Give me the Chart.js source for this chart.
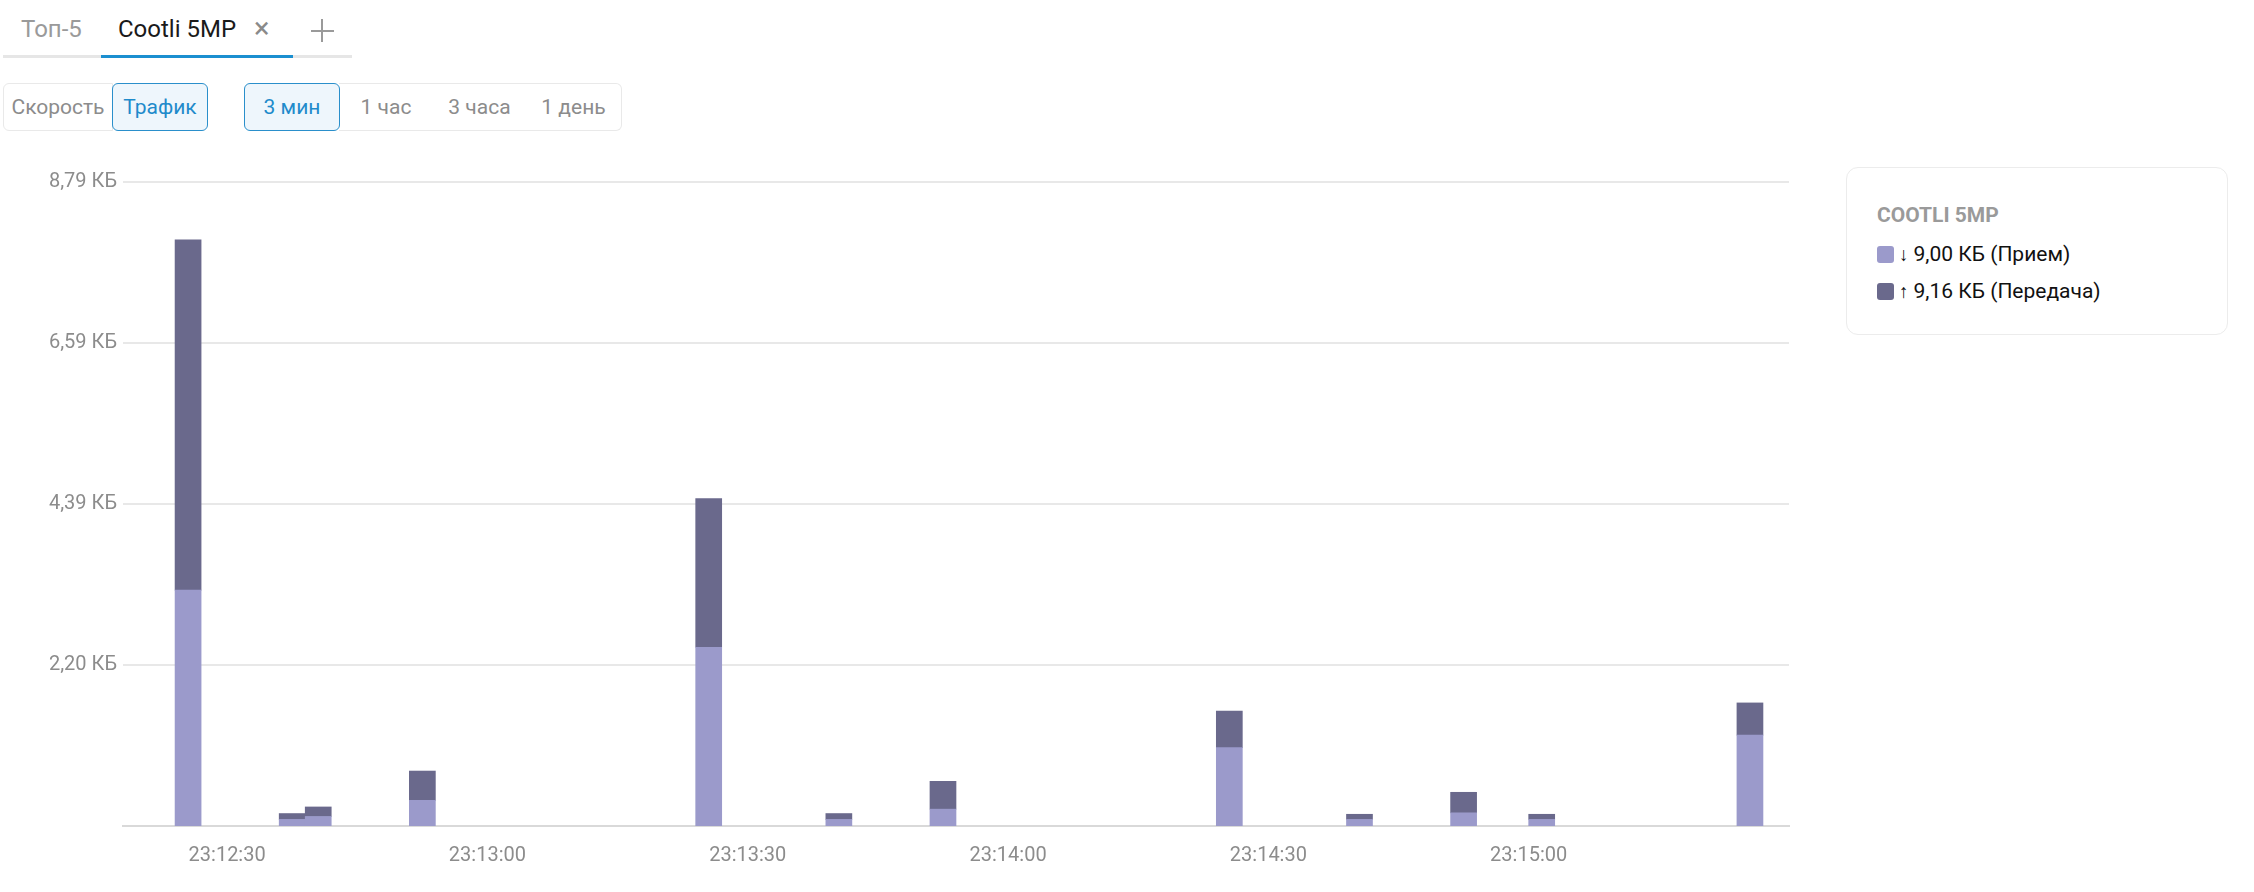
<!DOCTYPE html>
<html lang="ru">
<head>
<meta charset="utf-8">
<title>Cootli 5MP - Трафик</title>
<script src="https://cdn.jsdelivr.net/npm/chart.js@4.4.0/dist/chart.umd.min.js"></script>
<style>
    body { margin: 0; background: #fff; font-family: Roboto, "Noto Sans", sans-serif; width: 2254px; height: 892px; position: relative; overflow: hidden; }
    .abs { position: absolute; }
    .tabline { left: 3px; top: 55px; width: 349px; height: 3px; background: #e6e6e6; }
    .tabactive { left: 101px; top: 55px; width: 192px; height: 3px; background: #1b8fd0; }
    .tab { top: 13px; font-size: 24px; line-height: 32px; }
    .plus-h { left: 311px; top: 30px; width: 23px; height: 2px; background: #9a9a9a; }
    .plus-v { left: 321px; top: 19px; width: 2px; height: 23px; background: #9a9a9a; }
    .btn { top: 83px; height: 48px; box-sizing: border-box; border: 1px solid #e9e9e9; font-size: 21px; color: #8c8c8c;
           display: flex; align-items: center; justify-content: center; background: #fff; }
    .btn.on { border-color: #2a8fcb; background: #eef6fc; color: #1f8bcb; z-index: 2; border-radius: 6px; }
    .legend { left: 1846px; top: 167px; width: 382px; height: 168px; box-sizing: border-box; border: 1px solid #ececec; border-radius: 12px; }
    .legend .title { position: absolute; left: 30px; top: 35px; font-size: 21px; font-weight: bold; color: #9a9a9a; }
    .legend .row { position: absolute; left: 30px; font-size: 21px; color: #111; display: flex; align-items: center; }
    .legend .sw { width: 17px; height: 17px; border-radius: 3px; margin-right: 5px; }
    .legend .arr { font-size: 19px; margin-right: 5px; }
    #wrap { position: absolute; left: 0; top: 160px; width: 1800px; height: 720px; }
</style>
</head>
<body>
<div class="abs tabline"></div>
<div class="abs tabactive"></div>
<div class="abs tab" style="left:21px;color:#9a9a9a;">Топ-5</div>
<div class="abs tab" style="left:118px;color:#1a1a1a;">Cootli 5MP</div>
<div class="abs tab" style="left:254px;top:12px;color:#8a8a8a;font-size:29px;">×</div>
<div class="abs plus-h"></div>
<div class="abs plus-v"></div>

<div class="abs btn" style="left:3px;width:110px;border-radius:6px 0 0 6px;">Скорость</div>
<div class="abs btn on" style="left:112px;width:96px;">Трафик</div>
<div class="abs btn on" style="left:244px;width:96px;">3 мин</div>
<div class="abs btn" style="left:339px;width:95px;border-left:none;">1 час</div>
<div class="abs btn" style="left:433px;width:94px;border-left:none;">3 часа</div>
<div class="abs btn" style="left:526px;width:96px;border-left:none;border-radius:0 6px 6px 0;">1 день</div>

<div class="abs legend">
    <div class="title">COOTLI 5MP</div>
    <div class="row" style="top:74px;"><span class="sw" style="background:#9b9acb"></span><span class="arr">↓</span>9,00 КБ (Прием)</div>
    <div class="row" style="top:111px;"><span class="sw" style="background:#6a698c"></span><span class="arr">↑</span>9,16 КБ (Передача)</div>
</div>

<div id="wrap"><canvas id="chartTrafico"></canvas></div>

<script>
// время отсчётов, секунды после 23:12:00 (шаг 3 с, нулевые отсчёты опущены)
const tiempos = [25.5, 37.5, 40.5, 52.5, 85.5, 100.5, 112.5, 145.5, 160.5, 172.5, 181.5, 205.5];
// КБ
const recepcion = [3.22, 0.09, 0.13, 0.35, 2.44, 0.09, 0.23, 1.07, 0.09, 0.18, 0.09, 1.24];
const transmision = [4.78, 0.08, 0.13, 0.40, 2.03, 0.08, 0.38, 0.50, 0.07, 0.28, 0.07, 0.44];

const xTicks = [30, 60, 90, 120, 150, 180];
const xTickLabels = ['23:12:30', '23:13:00', '23:13:30', '23:14:00', '23:14:30', '23:15:00'];
const yTicks = [2.20, 4.39, 6.59, 8.79];
const yTickLabels = ['2,20 КБ', '4,39 КБ', '6,59 КБ', '8,79 КБ'];

let chartTrafico;

document.addEventListener('DOMContentLoaded', () => {
    let ctx = document.getElementById('chartTrafico').getContext('2d');
    chartTrafico = new Chart(ctx, {
        type: 'bar',
        data: {
            labels: tiempos,
            datasets: [{
                label: 'Прием',
                data: recepcion,
                backgroundColor: '#9b9acb',
                barPercentage: 1,
                categoryPercentage: 1
            }, {
                label: 'Передача',
                data: transmision,
                backgroundColor: '#6a698c',
                barPercentage: 1,
                categoryPercentage: 1
            }]
        },
        options: {
            responsive: true,
            maintainAspectRatio: false,
            animation: false,
            layout: { padding: { top: 22, right: 11, left: 0, bottom: 0 } },
            plugins: { legend: { display: false }, tooltip: { enabled: false } },
            scales: {
                x: {
                    type: 'linear',
                    stacked: true,
                    offset: false,
                    min: 18,
                    max: 210,
                    grid: { display: false, offset: false },
                    border: { display: true, color: '#d9d9d9', width: 2 },
                    afterBuildTicks: (scale) => { scale.ticks = xTicks.map(v => ({ value: v })); },
                    afterFit: (scale) => { scale.height = 54; },
                    ticks: {
                        padding: 10,
                        maxRotation: 0,
                        autoSkip: false,
                        color: '#8c8c8c',
                        font: { family: 'Roboto', size: 20 },
                        callback: (v) => xTickLabels[xTicks.indexOf(v)]
                    }
                },
                y: {
                    stacked: true,
                    min: 0,
                    max: 8.79,
                    grid: { color: '#e8e8e8', lineWidth: 2, drawTicks: false },
                    border: { display: false },
                    afterBuildTicks: (scale) => { scale.ticks = yTicks.map(v => ({ value: v })); },
                    afterFit: (scale) => { scale.width = 123; },
                    ticks: {
                        padding: 6,
                        color: '#8c8c8c',
                        font: { family: 'Roboto', size: 20 },
                        callback: (v) => yTickLabels[yTicks.indexOf(v)]
                    }
                }
            }
        }
    });
});
</script>
</body>
</html>
